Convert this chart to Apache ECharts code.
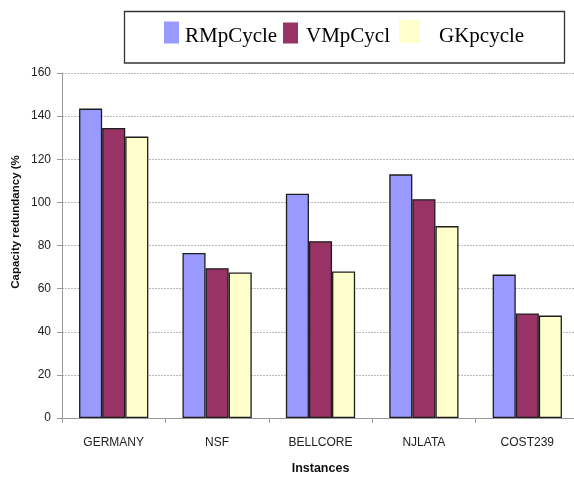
<!DOCTYPE html>
<html>
<head>
<meta charset="utf-8">
<script src="https://cdn.jsdelivr.net/npm/echarts@6/dist/echarts.min.js"></script>
<style>
  html, body { margin: 0; padding: 0; background: #fff; }
  #chart { width: 574px; height: 478px; }
</style>
</head>
<body>
<div id="chart"></div>
<script>
// Capacity redundancy per test network, for three cycle-based methods
const instances = ['GERMANY', 'NSF', 'BELLCORE', 'NJLATA', 'COST239'];
const seriesNames = ['RMpCycle', 'VMpCycl', 'GKpcycle'];
const rmpCycle = [143.5, 76.5, 104, 113, 66.5];
const vmpCycl = [134.5, 69.5, 82, 101.5, 48.5];
const gkpCycle = [130.5, 67.5, 68, 89, 47.5];
const yTicks = { min: 0, max: 160, step: 20 };

const colors = ['#9999FF', '#993366', '#FFFFCC'];
const values = [rmpCycle, vmpCycl, gkpCycle];

const chart = echarts.init(document.getElementById('chart'), null, { renderer: 'canvas' });

// Legend swatches and legend names are laid out as separate legend
// components so the names can sit a little lower than the swatches.
function swatchLegend(name, left, top, w, h) {
  return {
    data: [name],
    left: left,
    top: top,
    padding: 0,
    icon: 'rect',
    itemWidth: w,
    itemHeight: h,
    itemStyle: { borderWidth: 0 },
    selectedMode: false,
    formatter: () => '',
    textStyle: { fontSize: 1 }
  };
}
function nameLegend(name, left, top) {
  return {
    data: [name],
    left: left,
    top: top,
    padding: 0,
    icon: 'rect',
    itemWidth: 1,
    itemHeight: 1,
    itemStyle: { opacity: 0, borderWidth: 0 },
    selectedMode: false,
    textStyle: { fontFamily: 'Liberation Serif', fontSize: 21, color: '#000' }
  };
}

chart.setOption({
  animation: false,
  backgroundColor: '#fff',
  color: colors,
  grid: { left: 62, top: 73, bottom: 60, right: -5, containLabel: false, outerBoundsMode: 'none' },
  legend: [
    swatchLegend(seriesNames[0], 164, 21.5, 15, 22),
    swatchLegend(seriesNames[1], 283, 22.5, 15, 21),
    swatchLegend(seriesNames[2], 399, 20, 21, 23),
    nameLegend(seriesNames[0], 179, 26),
    nameLegend(seriesNames[1], 300, 26),
    nameLegend(seriesNames[2], 433, 26)
  ],
  graphic: [
    {
      type: 'rect',
      shape: { x: 124.5, y: 11.5, width: 440, height: 51.5 },
      style: { fill: 'transparent', stroke: '#333', lineWidth: 1.3 },
      z: -1
    },
    {
      type: 'text',
      x: 16,
      y: 222,
      rotation: Math.PI / 2,
      style: {
        text: 'Capacity redundancy (%',
        fontFamily: 'Liberation Sans',
        fontWeight: 'bold',
        fontSize: 11.5,
        fill: '#111',
        align: 'center',
        verticalAlign: 'middle'
      }
    }
  ],
  xAxis: {
    type: 'category',
    data: instances,
    name: 'Instances',
    nameLocation: 'middle',
    nameGap: 44,
    nameTextStyle: { fontFamily: 'Liberation Sans', fontSize: 12.5, fontWeight: 'bold', color: '#111' },
    axisLine: { lineStyle: { color: '#999', width: 1 } },
    axisTick: { show: true, length: 5, lineStyle: { color: '#999' } },
    axisLabel: { fontFamily: 'Liberation Sans', fontSize: 12, color: '#222', margin: 19 }
  },
  yAxis: {
    type: 'value',
    min: yTicks.min,
    max: yTicks.max,
    interval: yTicks.step,
    axisLine: { show: true, lineStyle: { color: '#999', width: 1 } },
    axisTick: { show: true, length: 5, lineStyle: { color: '#999' } },
    axisLabel: { fontFamily: 'Liberation Sans', fontSize: 12, color: '#222', margin: 11 },
    splitLine: { lineStyle: { color: '#bbb', type: [2, 1], width: 1 } }
  },
  series: seriesNames.map((name, i) => ({
    name: name,
    type: 'bar',
    data: values[i],
    barGap: '0%',
    barCategoryGap: '33%',
    itemStyle: { color: colors[i], borderColor: '#1e1e1e', borderWidth: 1.3 }
  }))
});
</script>
</body>
</html>
